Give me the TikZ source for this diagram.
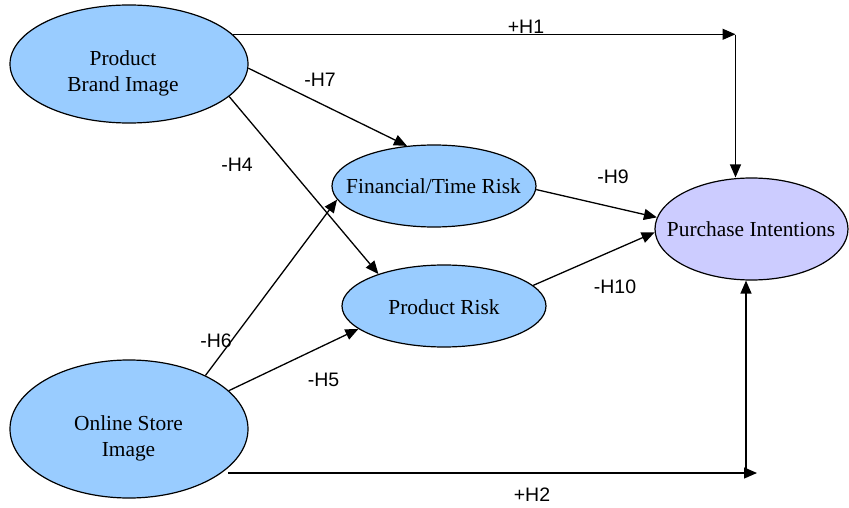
\documentclass[tikz,border=0pt]{standalone}
\usepackage{fontspec}
\setmainfont{Liberation Serif}
\newfontfamily\labelfont{Liberation Sans}
\usetikzlibrary{shapes.geometric,arrows.meta}
\definecolor{ellblue}{HTML}{99CCFF}
\definecolor{ellpurple}{HTML}{CCCCFF}
\begin{document}
\begin{tikzpicture}[x=1pt,y=-1pt,
  ell/.style={ellipse, draw, line width=1.2pt, fill=ellblue, inner sep=0pt},
  nodetext/.style={font=\fontsize{21.4}{26}\selectfont, align=center, inner sep=0pt},
  hlabel/.style={font=\labelfont\fontsize{19.5}{23}\selectfont, inner sep=0pt},
  conn/.style={line width=1.3pt, -{Triangle[length=13pt,width=11pt]}}]
\useasboundingbox (0,0) rectangle (849,508);
% ellipses
\node[ell, minimum width=238pt, minimum height=118pt] (brand) at (129,64) {};
\node[ell, minimum width=238pt, minimum height=138pt] (online) at (129,429) {};
\node[ell, minimum width=204pt, minimum height=82pt] (fin) at (434,186) {};
\node[ell, minimum width=204pt, minimum height=82pt] (prisk) at (444,306) {};
\node[ell, fill=ellpurple, minimum width=193pt, minimum height=102pt] (pi) at (751.5,229) {};
% texts
\node[nodetext] (tbrand) at (123,73) {Product\\Brand Image};
\node[nodetext] (tonline) at (128.5,438) {Online Store\\Image};
\node[nodetext] (tfin) at (433.5,186) {Financial/Time Risk};
\node[nodetext] (tprisk) at (444,307) {Product Risk};
\node[nodetext] (tpi) at (751,229.5) {Purchase Intentions};
% connectors
\coordinate (c1) at (735.5,35);
\draw[conn] (brand.16) -- (brand.16 -| c1);
\draw[conn] (c1) -- (c1 |- pi.north);
\draw[conn] (brand.-2) -- (fin.124);
\draw[conn] (brand.-18) -- (prisk.154);
\draw[conn] (online.35) -- (fin.188);
\draw[conn] (online.21) -- (prisk.195);
\draw[conn] (fin.-2) -- (pi.173);
\draw[conn] (prisk.13) -- (pi.182);
\coordinate (c2) at (757,473);
\coordinate (c2b) at (746,473);
\coordinate (c2a) at (228,473);
\draw[conn] (c2a) -- (c2);
\draw[conn] (c2b) -- (c2b |- pi.south);
% labels
\node[hlabel] (l1) at (526,27) {+H1};
\node[hlabel] (l7) at (320,80) {-H7};
\node[hlabel] (l4) at (237,165) {-H4};
\node[hlabel] (l9) at (613,177) {-H9};
\node[hlabel] (l10) at (615,287) {-H10};
\node[hlabel] (l6) at (216,341) {-H6};
\node[hlabel] (l5) at (323.5,380) {-H5};
\node[hlabel] (l2) at (532,495) {+H2};
\end{tikzpicture}
\end{document}
